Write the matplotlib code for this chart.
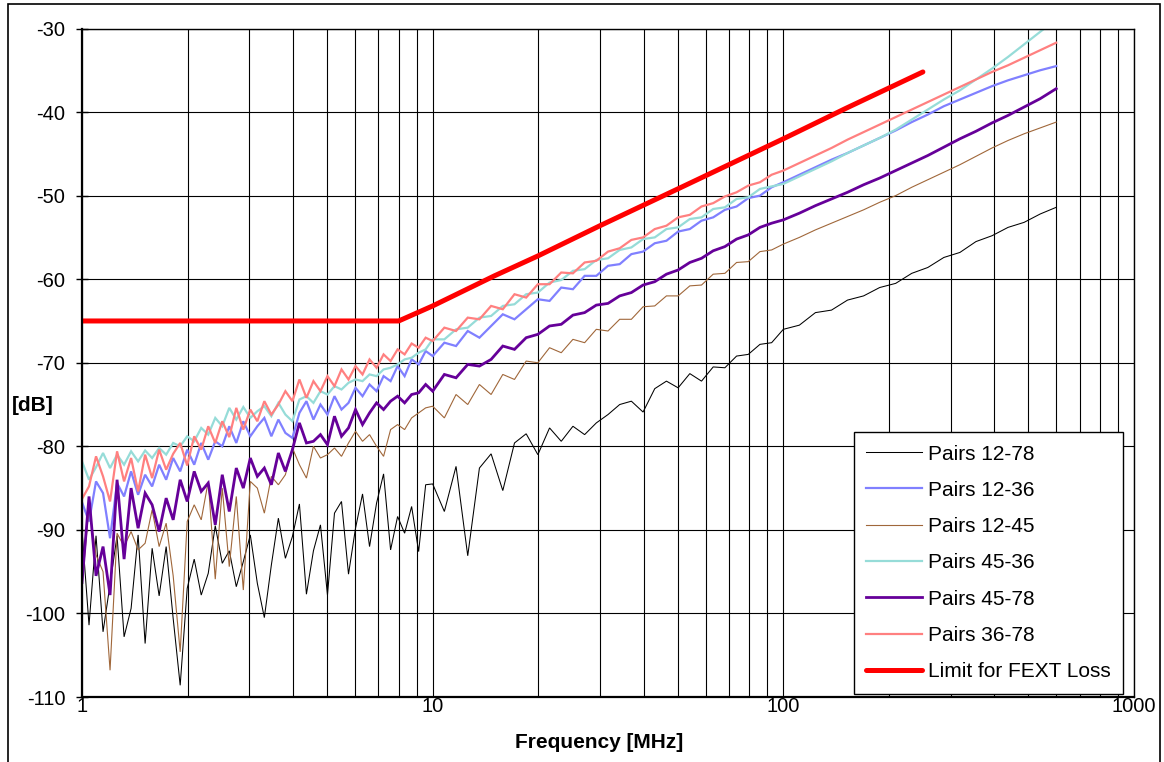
import numpy as np
import matplotlib
matplotlib.use("Agg")
import matplotlib.pyplot as plt
from matplotlib.patches import Rectangle
from matplotlib.ticker import LogLocator, NullFormatter, FixedLocator

plt.rcParams['font.family'] = ['Liberation Sans', 'DejaVu Sans']
plt.rcParams['axes.unicode_minus'] = False

# ---------------- data ----------------
# measurement frequency grid (MHz), log-spaced sweep
freq_lo = np.geomspace(1, 10, 50, endpoint=False)
freq_mid = np.geomspace(10, 100, 30, endpoint=False)
freq_hi = np.geomspace(100, 600, 18)
freq = np.concatenate([freq_lo, freq_mid, freq_hi])

pairs_12_78 = [
    -90.0, -101.4, -90.7, -102.2, -96.5, -90.7, -102.8, -99.4, -90.6, -103.6,
    -92.2, -97.9, -92.0, -100.6, -108.6, -97.0, -93.5, -97.8, -95.2, -89.5,
    -94.0, -92.5, -96.8, -93.8, -90.6, -96.4, -100.5, -94.2, -88.6, -93.4,
    -90.8, -86.9, -97.7, -92.5, -89.4, -97.8, -88.0, -86.6, -95.3, -89.8,
    -85.7, -92.0, -86.8, -83.3, -92.4, -88.4, -90.4, -87.2, -92.6, -84.6,
    -84.5, -87.8, -82.4, -93.1, -82.6, -80.9, -85.3, -79.6, -78.5, -81.0,
    -77.8, -79.4, -77.6, -78.6, -77.2, -76.2, -75.0, -74.6, -75.9, -73.1,
    -72.2, -73.0, -71.3, -72.2, -70.5, -70.6, -69.2, -69.0, -67.8, -67.6,
    -66.0, -65.5, -64.0, -63.7, -62.5, -62.0, -61.0, -60.5, -59.3, -58.6,
    -57.4, -56.8, -55.5, -54.8, -53.8, -53.2, -52.2, -51.4,
]

pairs_12_36 = [
    -86.7, -89.0, -84.2, -85.6, -91.0, -84.4, -86.0, -83.0, -85.8, -83.4,
    -84.8, -82.2, -84.0, -81.4, -83.0, -80.4, -82.2, -79.6, -81.6, -79.4,
    -80.0, -77.6, -79.6, -77.0, -78.8, -77.6, -76.6, -78.8, -76.8, -78.4,
    -79.0, -76.0, -74.6, -76.8, -75.0, -76.2, -74.0, -75.6, -74.8, -73.0,
    -74.0, -72.6, -73.4, -71.6, -72.2, -70.4, -71.6, -69.6, -70.2, -68.6,
    -69.2, -67.6, -68.0, -66.2, -67.0, -65.6, -64.2, -64.8, -63.6, -62.4,
    -62.6, -61.0, -61.2, -59.6, -59.6, -58.4, -58.2, -57.0, -56.7, -55.7,
    -55.4, -54.3, -54.0, -53.0, -52.6, -51.7, -51.3, -50.3, -50.0, -49.0,
    -48.4, -47.5, -46.6, -45.7, -44.9, -44.0, -43.1, -42.2, -41.2, -40.3,
    -39.3, -38.5, -37.7, -36.9, -36.2, -35.6, -35.0, -34.5,
]

pairs_12_45 = [
    -96.7, -87.2, -93.0, -95.0, -106.8, -90.4, -92.0, -90.2, -92.4, -91.6,
    -87.6, -92.0, -89.2, -95.5, -104.6, -89.0, -87.0, -88.8, -84.2, -95.9,
    -85.0, -94.4, -86.0, -97.2, -84.2, -85.0, -88.0, -83.6, -84.6, -83.4,
    -80.2, -82.2, -83.8, -80.0, -81.4, -81.0, -80.2, -81.2, -79.6, -78.2,
    -79.4, -78.6, -80.0, -81.2, -78.0, -77.4, -78.0, -76.6, -76.0, -75.4,
    -75.2, -76.6, -73.8, -75.0, -72.6, -73.8, -71.4, -72.0, -69.8, -70.0,
    -68.2, -68.8, -67.2, -67.6, -66.0, -66.2, -64.8, -64.8, -63.3, -63.2,
    -62.0, -62.0, -60.8, -60.7, -59.4, -59.3, -58.0, -57.9, -56.7, -56.5,
    -55.8, -55.0, -54.1, -53.3, -52.5, -51.7, -50.8, -50.0, -49.0, -48.1,
    -47.2, -46.3, -45.3, -44.3, -43.4, -42.6, -41.9, -41.2,
]

pairs_45_36 = [
    -81.8, -84.0, -82.5, -80.8, -82.6, -81.0, -82.2, -80.6, -81.8, -80.5,
    -81.4, -80.2, -81.0, -79.6, -80.0, -78.8, -79.4, -77.8, -78.6, -76.6,
    -77.6, -75.4, -76.8, -75.3, -76.6, -75.8, -75.2, -76.4, -74.8, -76.2,
    -77.0, -74.4, -74.0, -74.8, -73.4, -73.8, -72.8, -73.2, -72.4, -72.0,
    -72.2, -71.4, -71.6, -70.8, -70.6, -70.2, -69.6, -69.4, -68.8, -68.4,
    -67.2, -67.2, -66.0, -65.8, -64.6, -64.4, -63.2, -63.0, -61.8, -61.6,
    -60.4, -60.1, -59.0, -58.8, -57.7, -57.5, -56.5, -56.2, -55.2, -55.0,
    -54.0, -53.8, -52.8, -52.6, -51.6, -51.4, -50.4, -50.2, -49.2, -48.9,
    -48.6, -47.7, -46.8, -45.9, -44.9, -44.0, -43.1, -42.1, -40.9, -39.7,
    -38.5, -37.4, -36.1, -34.8, -33.4, -31.9, -30.4, -28.9,
]

pairs_45_78 = [
    -96.3, -86.0, -95.5, -92.0, -97.8, -84.0, -93.5, -85.0, -89.8, -85.6,
    -87.0, -90.2, -86.2, -88.8, -84.0, -86.6, -83.0, -85.4, -84.4, -89.4,
    -83.4, -87.8, -82.6, -85.0, -81.4, -83.6, -82.6, -84.6, -80.8, -83.0,
    -80.4, -77.2, -79.6, -79.4, -78.6, -79.8, -76.4, -78.8, -77.8, -75.6,
    -77.4, -76.0, -74.8, -75.6, -74.6, -74.0, -74.8, -73.8, -73.6, -72.6,
    -73.4, -71.4, -71.8, -70.2, -70.4, -69.6, -68.0, -68.4, -67.0, -66.6,
    -65.6, -65.4, -64.3, -64.0, -63.1, -62.9, -62.0, -61.6, -60.7, -60.3,
    -59.4, -58.9, -58.0, -57.5, -56.6, -56.1, -55.2, -54.7, -53.8, -53.3,
    -52.9, -52.1, -51.2, -50.4, -49.6, -48.7, -47.9, -47.0, -46.1, -45.2,
    -44.2, -43.2, -42.3, -41.3, -40.4, -39.4, -38.4, -37.2,
]

pairs_36_78 = [
    -86.3, -84.8, -81.2, -83.6, -86.6, -80.6, -84.2, -81.4, -85.4, -81.0,
    -83.8, -80.4, -82.8, -80.9, -79.6, -82.3, -78.8, -80.4, -77.6, -79.6,
    -77.0, -78.9, -75.4, -78.0, -75.6, -77.0, -74.6, -76.2, -75.0, -73.4,
    -74.6, -72.0, -74.2, -72.2, -73.4, -71.6, -72.8, -70.8, -72.0, -70.4,
    -71.4, -69.6, -70.6, -69.0, -69.8, -68.4, -69.0, -67.7, -68.2, -67.0,
    -67.4, -65.8, -66.2, -64.6, -64.8, -63.2, -63.6, -61.8, -62.2, -60.6,
    -60.6, -59.2, -59.3, -58.0, -57.8, -56.7, -56.3, -55.3, -55.0, -54.0,
    -53.6, -52.6, -52.3, -51.3, -50.9, -50.1, -49.6, -48.8, -48.4, -47.5,
    -47.0, -46.1, -45.2, -44.3, -43.3, -42.4, -41.5, -40.6, -39.7, -38.8,
    -37.9, -37.0, -36.1, -35.2, -34.4, -33.5, -32.6, -31.7,
]

limit_freq = [1, 8, 10, 15, 20, 30, 50, 100, 150, 250]
limit_fext = [-65.0, -65.0, -63.2, -59.6, -57.2, -53.6, -49.2, -43.2, -39.6, -35.2]

x_ticks = [1, 10, 100, 1000]
x_tick_labels = ['1', '10', '100', '1000']
y_ticks = [-110, -100, -90, -80, -70, -60, -50, -40, -30]

series = [
    ('Pairs 12-78', pairs_12_78, '#000000', 0.75),
    ('Pairs 12-36', pairs_12_36, '#8080ff', 1.6),
    ('Pairs 12-45', pairs_12_45, '#a0673a', 0.8),
    ('Pairs 45-36', pairs_45_36, '#96dcd8', 1.6),
    ('Pairs 45-78', pairs_45_78, '#660099', 2.0),
    ('Pairs 36-78', pairs_36_78, '#ff8080', 1.6),
]

# ---------------- figure ----------------
fig = plt.figure(figsize=(11.64, 7.62), dpi=100)
ax = fig.add_axes([82 / 1164, 1 - 697 / 762, (1134 - 82) / 1164, (697 - 28.5) / 762])

for name, vals, col, lw in series:
    ax.plot(freq, vals, color=col, lw=lw, label=name, solid_joinstyle='miter')
ax.plot(limit_freq, limit_fext, color='#ff0000', lw=3.6, label='Limit for FEXT Loss',
        solid_capstyle='round')

ax.set_xscale('log')
ax.set_xlim(1, 1000)
ax.set_ylim(-110, -30)
ax.xaxis.set_major_locator(FixedLocator(x_ticks))
ax.set_xticklabels(x_tick_labels)
ax.xaxis.set_minor_locator(LogLocator(base=10, subs=range(2, 10)))
ax.xaxis.set_minor_formatter(NullFormatter())
ax.set_yticks(y_ticks)
ax.set_yticklabels([str(v) for v in y_ticks])

ax.grid(which='both', axis='x', color='black', lw=0.8)
ax.grid(which='major', axis='y', color='black', lw=0.8)

ax.tick_params(axis='x', which='both', length=0, labelsize=14.5, pad=0)
ax.tick_params(axis='y', which='major', length=8, direction='inout', width=1,
               labelsize=14.5, pad=8)
for s in ax.spines.values():
    s.set_color('black')
    s.set_linewidth(1.0)
ax.spines['left'].set_linewidth(1.6)
ax.spines['bottom'].set_linewidth(1.6)

leg = ax.legend(loc='upper left', bbox_to_anchor=((854 - 82) / 1052, (697 - 432) / 668.5),
                borderaxespad=0, fontsize=15, frameon=True, fancybox=False,
                edgecolor='black', framealpha=1, handlelength=2.65, handletextpad=0.3,
                labelspacing=0.83, borderpad=0.6)
leg.get_frame().set_linewidth(1.0)

fig.text(599 / 1164, 1 - 742 / 762, 'Frequency [MHz]', ha='center', va='center',
         fontsize=15, fontweight='bold')
fig.text(33 / 1164, 1 - 405 / 762, '[dB]', ha='center', va='center',
         fontsize=15, fontweight='bold')

fig.patches.append(Rectangle((7.5 / 1164, -0.05), (1160 - 7.5) / 1164, (758 / 762) + 0.05,
                             transform=fig.transFigure, fill=False, ec='black', lw=1.2))

fig.savefig('out.png', dpi=100)
